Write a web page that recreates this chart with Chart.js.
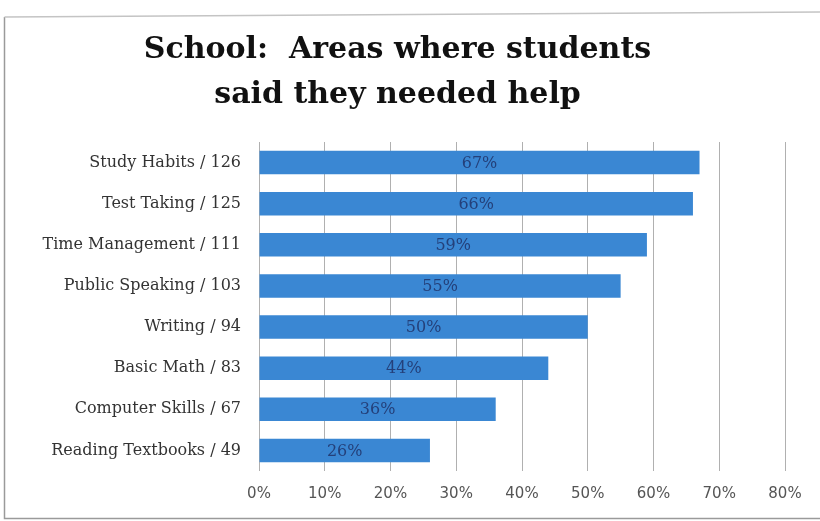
<!DOCTYPE html>
<html>
<head>
<meta charset="utf-8">
<title>School: Areas where students said they needed help</title>
<script src="https://cdn.jsdelivr.net/npm/chart.js@4/dist/chart.umd.min.js"></script>
<style>
  html, body { margin: 0; padding: 0; background: #fff; }
  #wrap { width: 820px; height: 521px; position: relative; }
</style>
</head>
<body>
<div id="wrap"><canvas id="helpChart" width="820" height="521"></canvas></div>
<script>
// Survey areas, with number of students who picked each one
const areas = ['Study Habits / 126', 'Test Taking / 125', 'Time Management / 111',
  'Public Speaking / 103', 'Writing / 94', 'Basic Math / 83',
  'Computer Skills / 67', 'Reading Textbooks / 49'];
// Share of students (percent)
const shares = [67, 66, 59, 55, 50, 44, 36, 26];
// Axis range and step
const axisMax = 80;
const axisStep = 10;
const titleLines = ['School:  Areas where students', 'said they needed help'];

const serif = "'DejaVu Serif', 'Liberation Serif', serif";

// white page with the thin frame around the chart
const framePlugin = {
  id: 'frame',
  beforeDraw(chart) {
    const c = chart.ctx;
    c.save();
    c.fillStyle = '#fff';
    c.fillRect(0, 0, chart.width, chart.height);
    c.strokeStyle = '#9a9a9a';
    c.lineWidth = 1.5;
    c.beginPath();
    c.moveTo(4.5, 17);
    c.lineTo(4.5, 518.5);
    c.lineTo(chart.width, 518.5);
    c.stroke();
    c.strokeStyle = '#c4c4c4';
    c.beginPath();
    c.moveTo(4.5, 17);
    c.lineTo(chart.width, 12);
    c.stroke();
    c.restore();
  }
};

// percent labels in the middle of each bar
const barLabels = {
  id: 'barLabels',
  afterDatasetsDraw(chart) {
    const c = chart.ctx;
    const meta = chart.getDatasetMeta(0);
    c.save();
    c.font = "16px " + serif;
    c.fillStyle = '#24407a';
    c.textAlign = 'center';
    c.textBaseline = 'middle';
    meta.data.forEach((bar, i) => {
      const mid = (bar.x + bar.base) / 2;
      c.fillText(shares[i] + '%', mid, bar.y + 1);
    });
    c.restore();
  }
};

new Chart(document.getElementById('helpChart'), {
  type: 'bar',
  data: {
    labels: areas,
    datasets: [{
      data: shares,
      backgroundColor: '#3a87d3',
      borderWidth: 0,
      barPercentage: 0.57,
      categoryPercentage: 1
    }]
  },
  options: {
    indexAxis: 'y',
    responsive: false,
    animation: false,
    layout: { padding: { left: 10, right: 35, top: 20, bottom: 4 } },
    plugins: {
      legend: { display: false },
      tooltip: { enabled: false },
      title: {
        display: true,
        text: titleLines,
        color: '#111',
        font: { family: serif, size: 30, weight: 'bold', lineHeight: 1.5 },
        padding: { top: 8, bottom: 24 }
      }
    },
    scales: {
      x: {
        min: 0,
        max: axisMax,
        ticks: {
          stepSize: axisStep,
          color: '#555',
          padding: 14,
          font: { family: "'DejaVu Sans', sans-serif", size: 15 },
          callback: v => v + '%'
        },
        grid: { color: '#b0b0b0', lineWidth: 1, drawTicks: false },
        border: { display: false }
      },
      y: {
        ticks: {
          color: '#333',
          padding: 10,
          font: { family: serif, size: 16 }
        },
        grid: { display: false },
        border: { display: false },
        afterFit(scale) { scale.width = 249; }
      }
    }
  },
  plugins: [framePlugin, barLabels]
});
</script>
</body>
</html>
